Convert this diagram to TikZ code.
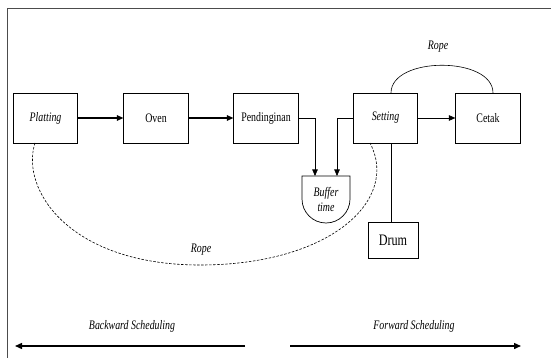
\documentclass[tikz,border=0pt]{standalone}
\usepackage{fontspec}
\setmainfont[FakeStretch=0.76]{Liberation Serif}
\usetikzlibrary{arrows.meta}
\begin{document}
\begin{tikzpicture}[x=1pt,y=-1pt,
  box/.style={draw, line width=0.7pt, minimum width=64.5pt, minimum height=50pt, inner sep=1pt, font=\fontsize{13}{15}\selectfont},
  thickarrow/.style={line width=1.2pt, -{Triangle[length=6.5pt,width=5.5pt]}},
  thinarrow/.style={line width=0.6pt, -{Triangle[length=6.5pt,width=5.5pt]}},
  plain/.style={line width=0.6pt},
  lbl/.style={font=\fontsize{13}{15}\selectfont\itshape, inner sep=0pt},
  schedarrow/.style={line width=1.4pt, -{Triangle[length=7pt,width=6pt]}}]
\useasboundingbox (0,0) rectangle (551,358);
% frame
\draw[line width=0.9pt, gray!60!black] (7,358) -- (7,8) -- (551,8);
% boxes
\node[box] (platting) at (45.5,118) {\itshape Platting};
\node[box] (oven) at (156,118) {Oven};
\node[box] (pend) at (266,118) {Pendinginan};
\node[box] (setting) at (385.5,118) {\itshape Setting};
\node[box] (cetak) at (488,118) {Cetak};
\node[box, minimum width=50pt, minimum height=36pt, font=\fontsize{16}{18}\selectfont] (drum) at (393,240) {Drum};
% buffer
\draw[line width=0.7pt] (302,176) -- (350,176) -- (350,199) .. controls (350,212.25) and (339.25,223) .. (326,223) .. controls (312.75,223) and (302,212.25) .. (302,199) -- cycle;
\node[font=\fontsize{13}{15}\selectfont\itshape, align=center, inner sep=0pt] (buffer) at (326,199) {Buffer\\time};
\coordinate (bufA) at (315,176);
\coordinate (bufB) at (337,176);
% arrows
\draw[thickarrow] (platting) -- (oven);
\draw[thickarrow] (oven) -- (pend);
\draw[thinarrow] (setting) -- (cetak);
\draw[thinarrow] (pend.east) -| (bufA);
\draw[thinarrow] (setting.west) -| (bufB);
\draw[plain] (drum.north -| 391,0) -- (391,143);
% rope top
\coordinate (ropeS) at (391,93);
\coordinate (ropeC) at (493,93);
\draw[plain] (ropeS) .. controls (391,56) and (493,56) .. (ropeC);
\node[lbl] (rope1) at (438,47) {Rope};
% dashed rope
\coordinate (dA) at (35,143);
\coordinate (dB) at (370,143);
\draw[plain, dash pattern=on 2.5pt off 1.5pt] (dA) .. controls (20,190) and (70,265) .. (200,265) .. controls (330,265) and (400,200) .. (dB);
\node[lbl] (rope2) at (201,250) {Rope};
% scheduling
\node[lbl] (back) at (132,326) {Backward Scheduling};
\node[lbl] (fwd) at (414,326) {Forward Scheduling};
\coordinate (b1) at (245,346);
\coordinate (b2) at (15,346);
\coordinate (f1) at (290,346);
\coordinate (f2) at (521,346);
\draw[schedarrow] (b1) -- (b2);
\draw[schedarrow] (f1) -- (f2);
\end{tikzpicture}
\end{document}
